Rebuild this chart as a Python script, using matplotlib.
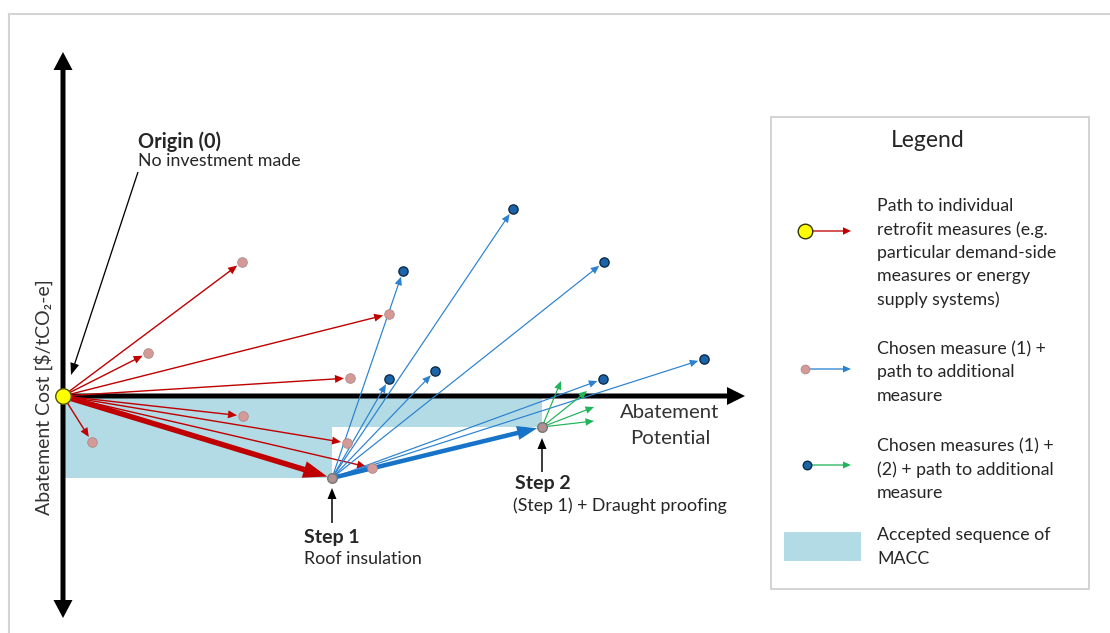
import numpy as np
import matplotlib
matplotlib.use("Agg")
import matplotlib.pyplot as plt
from matplotlib.patches import Rectangle, FancyArrow
from matplotlib.lines import Line2D

plt.rcParams['font.family'] = ['Lato', 'DejaVu Sans']

# ---- data (abatement potential x, abatement cost y; origin = no investment) ----
origin = (0.0, 0.0)
step1 = (26.9, -8.2)
step2 = (47.9, -3.1)

# individual retrofit measures reached from origin (red paths, pink dots)
single_x = [17.9, 8.5, 32.6, 28.7, 18.0, 2.9, 28.4, 30.9]
single_y = [13.4, 4.3, 8.2, 1.8, -2.0, -4.6, -4.7, -7.2]

# step 1 + additional measure (blue paths, dark blue dots)
combo1_x = [34.0, 45.0, 54.1, 32.6, 37.2, 54.0, 64.1]
combo1_y = [12.5, 18.7, 13.4, 1.7, 2.5, 1.7, 3.7]

# step 1 + step 2 + additional measure (green paths)
combo2_x = [49.8, 52.4, 53.1, 53.1]
combo2_y = [1.5, 0.5, -1.1, -2.5]

RED = '#C00000'
PINK = '#D49A98'
BLUE = '#2C82D0'
DBLUE = '#1B64A8'
GREEN = '#22B45A'
SHADE = '#B3DBE5'
TXT = '#262626'

fig = plt.figure(figsize=(11.1, 6.33), dpi=100)
ax = fig.add_axes([0, 0, 1, 1])
ax.set_xlim(-6.3, 104.7)
ax.set_ylim(-23.7, 39.6)
ax.set_aspect('equal')
ax.axis('off')


def px(v):
    return v / 10.0


def arrow(p0, p1, width, hw, hl, color, shrink=0.0, z=3):
    x0, y0 = p0
    x1, y1 = p1
    d = np.hypot(x1 - x0, y1 - y0)
    ux, uy = (x1 - x0) / d, (y1 - y0) / d
    x1s, y1s = x1 - ux * shrink, y1 - uy * shrink
    ax.add_patch(FancyArrow(x0, y0, x1s - x0, y1s - y0, width=width,
                            head_width=hw, head_length=hl,
                            length_includes_head=True, color=color,
                            lw=0, zorder=z))


# frame lines (top and left)
fig.add_artist(Line2D([9 / 1110, 1], [1 - 14 / 633, 1 - 14 / 633],
                      color='#D4D4D4', lw=1.5))
fig.add_artist(Line2D([9 / 1110, 9 / 1110], [0, 1 - 14 / 633],
                      color='#D4D4D4', lw=1.5))

# accepted sequence of MACC (shaded blocks)
ax.add_patch(Rectangle((origin[0], step1[1]), step1[0] - origin[0],
                       -step1[1], facecolor=SHADE, edgecolor='none', zorder=1))
ax.add_patch(Rectangle((step1[0], step2[1]), step2[0] - step1[0],
                       -step2[1], facecolor=SHADE, edgecolor='none', zorder=1))

# axes arrows
arrow((0, 0), (0, 34.4), px(5), px(19), px(18), 'black', z=2)
arrow((0, 0), (0, -22.2), px(5), px(19), px(18), 'black', z=2)
arrow((0, 0), (68.2, 0), px(5), px(18), px(18), 'black', z=2)

# red paths from origin
for x, y in zip(single_x, single_y):
    arrow(origin, (x, y), px(1.4), px(8), px(9), RED, shrink=px(6), z=4)
ax.scatter(single_x, single_y, s=48, color=PINK, edgecolor='#B08888',
           linewidth=0.6, zorder=6)

# chosen step 1 (thick red)
arrow(origin, step1, px(5.5), px(17), px(24), RED, shrink=px(5), z=5)

# blue paths from step 1
for x, y in zip(combo1_x, combo1_y):
    arrow(step1, (x, y), px(1.2), px(7.5), px(8.5), BLUE, shrink=px(6), z=4)
ax.scatter(combo1_x, combo1_y, s=44, color=DBLUE, edgecolor='#0D2B4A',
           linewidth=1.0, zorder=6)

# chosen step 2 (thick blue)
arrow(step1, step2, px(4.5), px(14), px(20), '#1673C8', shrink=px(5), z=5)

# green paths from step 2
for x, y in zip(combo2_x, combo2_y):
    arrow(step2, (x, y), px(1.2), px(7.5), px(8.5), GREEN, z=4)

# step markers
ax.scatter([step1[0], step2[0]], [step1[1], step2[1]], s=48,
           color='#B09090', edgecolor='#777777', linewidth=1.0, zorder=7)

# origin marker
ax.scatter([origin[0]], [origin[1]], s=125, color='#FFFF00',
           edgecolor='#555500', linewidth=1.0, zorder=8)

# annotations
ax.text(7.5, 25.4, 'Origin (0)', fontsize=14.3, fontweight='bold',
        ha='left', va='center', color=TXT, zorder=9)
ax.text(7.5, 23.5, 'No investment made', fontsize=12.8, ha='left',
        va='center', color=TXT, zorder=9)
arrow((7.5, 22.4), (0.8, 2.1), px(1.3), px(9), px(12), 'black', z=9)

ax.text(24.1, -14.1, 'Step 1', fontsize=14, fontweight='bold',
        ha='left', va='center', color=TXT)
ax.text(24.1, -16.3, 'Roof insulation', fontsize=12.8, ha='left',
        va='center', color=TXT)
arrow((step1[0], -12.7), (step1[0], -9.2), px(1.5), px(9), px(11), 'black')

ax.text(45.2, -8.7, 'Step 2', fontsize=14, fontweight='bold',
        ha='left', va='center', color=TXT)
ax.text(45.0, -11.0, '(Step 1) + Draught proofing', fontsize=12.8,
        ha='left', va='center', color=TXT)
arrow((step2[0], -7.6), (step2[0], -4.2), px(1.5), px(9), px(11), 'black')

ax.text(60.7, -1.65, 'Abatement', fontsize=14.7, ha='center', va='center',
        color='#333333')
ax.text(60.7, -4.2, 'Potential', fontsize=14.7, ha='center', va='center',
        color='#333333')

ax.text(-2.0, -0.1, 'Abatement Cost [$/tCO\u2082-e]', fontsize=14,
        rotation=90, ha='center', va='center', color='#333333')

# ---- legend box ----
ax.add_patch(Rectangle((70.8, -19.3), 31.8, 47.2, facecolor='white',
                       edgecolor='#CCCCCC', lw=1.2, zorder=2))
ax.text(86.5, 25.5, 'Legend', fontsize=16.5, ha='center', va='center',
        color=TXT)

LFS = 12.8
lx0, lx1, tx = 74.2, 78.8, 81.4
# entry 1
ly = 16.5
arrow((lx0, ly), (lx1, ly), px(1.3), px(7.5), px(8), RED, z=4)
ax.scatter([lx0], [ly], s=110, color='#FFFF00', edgecolor='#333300',
           linewidth=1.0, zorder=6)
for i, t in enumerate(['Path to individual', 'retrofit measures (e.g.',
                       'particular demand-side', 'measures or energy',
                       'supply systems)']):
    ax.text(tx, 19.0 - i * 2.35, t, fontsize=LFS, ha='left', va='center',
            color=TXT)
# entry 2
ly = 2.7
arrow((lx0, ly), (lx1, ly), px(1.3), px(7), px(8), BLUE, z=4)
ax.scatter([lx0], [ly], s=40, color=PINK, edgecolor='#B08888',
           linewidth=0.6, zorder=6)
for i, t in enumerate(['Chosen measure (1) +', 'path to additional',
                       'measure']):
    ax.text(tx, 4.7 - i * 2.35, t, fontsize=LFS, ha='left', va='center',
            color=TXT)
# entry 3
ly = -6.9
arrow((lx0 + 0.4, ly), (lx1, ly), px(1.3), px(7), px(8), GREEN, z=4)
ax.scatter([lx0 + 0.2], [ly], s=38, color=DBLUE, edgecolor='#0D2B4A',
           linewidth=1.0, zorder=6)
for i, t in enumerate(['Chosen measures (1) +', '(2) + path to additional',
                       'measure']):
    ax.text(tx, -5.0 - i * 2.35, t, fontsize=LFS, ha='left', va='center',
            color=TXT)
# entry 4
ax.add_patch(Rectangle((72.1, -16.5), 7.7, 2.9, facecolor=SHADE,
                       edgecolor='none', zorder=3))
for i, t in enumerate(['Accepted sequence of', 'MACC']):
    ax.text(tx, -13.9 - i * 2.35, t, fontsize=LFS, ha='left', va='center',
            color=TXT)

fig.savefig('out.png', dpi=100)
